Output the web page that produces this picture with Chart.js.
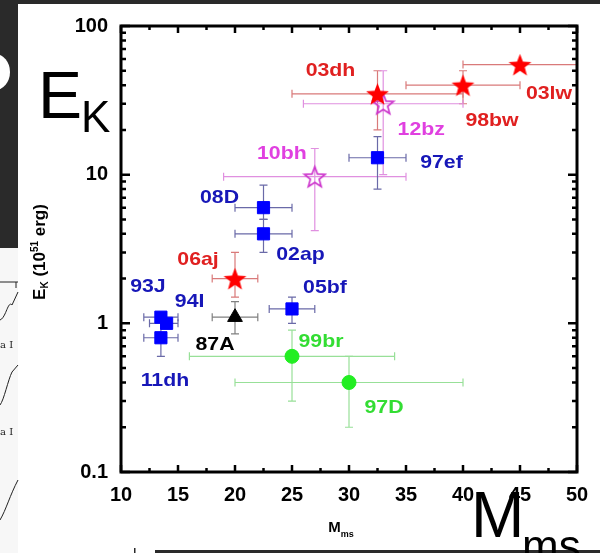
<!DOCTYPE html>
<html>
<head>
<meta charset="utf-8">
<script src="https://cdn.jsdelivr.net/npm/chart.js@4.4.0/dist/chart.umd.min.js"></script>
<style>
  html, body { margin: 0; padding: 0; background: #fff; }
  #canvas { display: block; }
</style>
</head>
<body>
<canvas id="canvas" width="600" height="553"></canvas>
<script>
// hypernovae, filled red stars
let redNames = ['03lw', '98bw', '03dh', '06aj'];
let redMass = [45, 40, 32.5, 20];
let redEk = [55, 40, 35, 2];
let redMassLo = [40, 35, 25, 18];
let redMassHi = [50, 45, 40, 22];
let redEkLo = [55, 30, 20, 1.5];
let redEkHi = [55, 50, 50, 3];

// open magenta stars
let pinkNames = ['12bz', '10bh'];
let pinkMass = [33, 27];
let pinkEk = [30, 9.7];
let pinkMassLo = [26, 19];
let pinkMassHi = [40, 35];
let pinkEkLo = [10, 4.2];
let pinkEkHi = [50, 15];

// blue squares
let blueNames = ['97ef', '08D', '02ap', '05bf', '93J', '94I', '11dh'];
let blueMass = [32.5, 22.5, 22.5, 25, 13.5, 14, 13.5];
let blueEk = [13, 6, 4, 1.25, 1.1, 1.0, 0.8];
let blueMassLo = [30, 20, 20, 23, 12, 12.5, 12];
let blueMassHi = [35, 25, 25, 27, 15, 15, 15];
let blueEkLo = [8, 5, 3, 1.0, 1.1, 1.0, 0.6];
let blueEkHi = [18, 8.5, 5, 1.5, 1.1, 1.0, 1.0];

// SN 1987A
let blackNames = ['87A'];
let blackMass = [20];
let blackEk = [1.1];
let blackMassLo = [18];
let blackMassHi = [22];
let blackEkLo = [0.85];
let blackEkHi = [1.4];

// green circles
let greenNames = ['99br', '97D'];
let greenMass = [25, 30];
let greenEk = [0.6, 0.4];
let greenMassLo = [16, 20];
let greenMassHi = [34, 40];
let greenEkLo = [0.3, 0.2];
let greenEkHi = [0.9, 0.6];

let massTicks = [10, 15, 20, 25, 30, 35, 40, 45, 50];
let ekTicks = [0.1, 1, 10, 100];

// label offsets in px from the marker (style only)
let labelOffset = {
  '03lw': [29, 29], '98bw': [29, 36], '03dh': [-47, -23], '06aj': [-37, -19],
  '12bz': [38, 26], '10bh': [-33, -23],
  '97ef': [64, 5], '08D': [-44, -10], '02ap': [37, 21], '05bf': [33, -21],
  '93J': [-13, -30], '94I': [23, -22], '11dh': [4, 43],
  '87A': [-20, 28], '99br': [29, -15], '97D': [35, 25]
};

function starImage(size, fill, stroke) {
  let c = document.createElement('canvas');
  c.width = size; c.height = size;
  let g = c.getContext('2d');
  let R = size / 2 - 1.5, r = R * 0.42, cx = size / 2, cy = size / 2 + R * 0.1;
  g.beginPath();
  for (let i = 0; i < 10; i++) {
    let a = -Math.PI / 2 + i * Math.PI / 5;
    let rad = i % 2 ? r : R;
    g.lineTo(cx + rad * Math.cos(a), cy + rad * Math.sin(a));
  }
  g.closePath();
  if (fill) { g.fillStyle = fill; g.fill(); }
  if (stroke) { g.strokeStyle = stroke; g.lineWidth = 1.6; g.stroke(); }
  return c;
}

let groups = [
  { names: redNames, mass: redMass, ek: redEk, mLo: redMassLo, mHi: redMassHi, eLo: redEkLo, eHi: redEkHi,
    point: starImage(27, '#ff0000'), radius: 12, fill: '#ff0000', bar: '#d97a7a', text: '#e02020' },
  { names: pinkNames, mass: pinkMass, ek: pinkEk, mLo: pinkMassLo, mHi: pinkMassHi, eLo: pinkEkLo, eHi: pinkEkHi,
    point: starImage(25, null, '#cc33cc'), radius: 12, fill: '#cc33cc', bar: '#e090e0', text: '#e040e0' },
  { names: blackNames, mass: blackMass, ek: blackEk, mLo: blackMassLo, mHi: blackMassHi, eLo: blackEkLo, eHi: blackEkHi,
    point: 'triangle', radius: 8.5, fill: '#000000', bar: '#808080', text: '#000000' },
  { names: blueNames, mass: blueMass, ek: blueEk, mLo: blueMassLo, mHi: blueMassHi, eLo: blueEkLo, eHi: blueEkHi,
    point: 'rect', radius: 8.6, fill: '#0000ff', bar: '#6a6aa8', text: '#1717b8' },
  { names: greenNames, mass: greenMass, ek: greenEk, mLo: greenMassLo, mHi: greenMassHi, eLo: greenEkLo, eHi: greenEkHi,
    point: 'circle', radius: 7, fill: '#22ee22', bar: '#98e098', text: '#33dd33' }
];

const FONT = '"Liberation Sans", Arial, sans-serif';

function richText(g, parts, x, y) {
  // parts: [text, size, baseline shift]; drawn left to right, centred on x
  let total = 0;
  parts.forEach(p => { g.font = 'bold ' + p[1] + 'px ' + FONT; total += g.measureText(p[0]).width; });
  let cx = x - total / 2;
  g.textAlign = 'left';
  g.textBaseline = 'alphabetic';
  parts.forEach(p => {
    g.font = 'bold ' + p[1] + 'px ' + FONT;
    g.fillText(p[0], cx, y + p[2]);
    cx += g.measureText(p[0]).width;
  });
}

const decor = {
  id: 'decor',
  beforeDraw(chart) {
    let g = chart.ctx;
    g.save();
    g.fillStyle = '#ffffff';
    g.fillRect(0, 0, 600, 553);
    // slide pieces around the figure
    g.fillStyle = '#2a2a2a';
    g.fillRect(0, 0, 600, 4);
    g.fillRect(0, 0, 18, 248);
    g.fillRect(155, 550, 445, 3);
    g.fillRect(134, 548, 1.5, 5);
    g.fillStyle = '#ffffff';
    g.beginPath();
    g.ellipse(-5, 72, 15, 18, 0, 0, Math.PI * 2);
    g.fill();
    g.fillStyle = '#f7f7f7';
    g.fillRect(0, 248, 18, 305);
    g.strokeStyle = '#222';
    g.lineWidth = 1;
    g.beginPath();
    g.moveTo(0, 282); g.lineTo(18, 282);
    g.moveTo(16, 282); g.lineTo(16, 288);
    g.moveTo(0, 320); g.bezierCurveTo(6, 318, 8, 300, 12, 305); g.lineTo(18, 292);
    g.moveTo(0, 405); g.bezierCurveTo(4, 400, 8, 380, 12, 372); g.lineTo(18, 365);
    g.moveTo(0, 520); g.bezierCurveTo(6, 510, 10, 495, 18, 480);
    g.stroke();
    g.fillStyle = '#222';
    g.font = '10px "DejaVu Serif", serif';
    g.textAlign = 'left';
    g.textBaseline = 'middle';
    g.fillText('a I', 0, 345);
    g.fillText('a I', 0, 432);
    g.restore();
  },
  beforeDatasetsDraw(chart) {
    let g = chart.ctx, xs = chart.scales.x, ys = chart.scales.y;
    g.save();
    g.lineWidth = 1.2;
    groups.forEach(grp => {
      g.strokeStyle = grp.bar;
      grp.mass.forEach((m, i) => {
        let px = xs.getPixelForValue(m), py = ys.getPixelForValue(grp.ek[i]);
        let x0 = xs.getPixelForValue(grp.mLo[i]), x1 = xs.getPixelForValue(grp.mHi[i]);
        let y0 = ys.getPixelForValue(grp.eLo[i]), y1 = ys.getPixelForValue(grp.eHi[i]);
        g.beginPath();
        if (grp.mLo[i] !== grp.mHi[i]) {
          g.moveTo(x0, py); g.lineTo(x1, py);
          g.moveTo(x0, py - 4); g.lineTo(x0, py + 4);
          g.moveTo(x1, py - 4); g.lineTo(x1, py + 4);
        }
        if (grp.eLo[i] !== grp.eHi[i]) {
          g.moveTo(px, y0); g.lineTo(px, y1);
          g.moveTo(px - 4, y0); g.lineTo(px + 4, y0);
          g.moveTo(px - 4, y1); g.lineTo(px + 4, y1);
        }
        g.stroke();
      });
    });
    g.restore();
  },
  afterDraw(chart) {
    let g = chart.ctx, xs = chart.scales.x, ys = chart.scales.y, a = chart.chartArea;
    g.save();
    // frame with inward ticks on all sides
    g.strokeStyle = '#000';
    g.lineWidth = 3;
    g.strokeRect(a.left, a.top, a.right - a.left, a.bottom - a.top);
    g.lineWidth = 2.5;
    g.beginPath();
    for (let v = 10; v <= 50; v += 2.5) {
      let px = xs.getPixelForValue(v);
      let len = (v % 5 === 0) ? 7 : 4;
      g.moveTo(px, a.bottom); g.lineTo(px, a.bottom - len);
      g.moveTo(px, a.top); g.lineTo(px, a.top + len);
    }
    for (let d = 0.1; d < 100; d *= 10) {
      for (let k = 1; k <= 10; k++) {
        let py = ys.getPixelForValue(d * k);
        let len = (k === 1 || k === 10) ? 9 : 5;
        g.moveTo(a.left, py); g.lineTo(a.left + len, py);
        g.moveTo(a.right, py); g.lineTo(a.right - len, py);
      }
    }
    g.stroke();

    // point labels, slightly widened like the scanned figure
    g.textAlign = 'center';
    g.textBaseline = 'middle';
    g.font = 'bold 19px ' + FONT;
    groups.forEach(grp => {
      g.fillStyle = grp.text;
      grp.names.forEach((n, i) => {
        let px = xs.getPixelForValue(grp.mass[i]), py = ys.getPixelForValue(grp.ek[i]);
        let off = labelOffset[n];
        g.save();
        g.translate(px + off[0], py + off[1]);
        g.scale(1.12, 1);
        g.fillText(n, 0, 0);
        g.restore();
      });
    });

    // axis titles
    g.fillStyle = '#000';
    g.save();
    g.translate(39, 252);
    g.rotate(-Math.PI / 2);
    richText(g, [['E', 17, 0], ['K', 10, 3], [' (10', 17, 0], ['51', 10, -7], [' erg)', 17, 0]], 0, 6);
    g.restore();
    richText(g, [['M', 15, 0], ['ms', 9, 5]], 341, 532);

    // big slide letters
    g.textAlign = 'left';
    g.textBaseline = 'alphabetic';
    g.font = '66px ' + FONT;
    g.fillText('E', 38, 118);
    g.font = '44px ' + FONT;
    g.fillText('K', 81, 132);
    g.font = '64px ' + FONT;
    g.fillText('M', 471, 537);
    g.font = '44px ' + FONT;
    g.fillText('ms', 522, 561);
    g.restore();
  }
};

let ctx = document.getElementById('canvas').getContext('2d');

let myChart = new Chart(ctx, {
  type: 'scatter',
  data: {
    datasets: groups.map(grp => ({
      data: grp.mass.map((m, i) => ({ x: m, y: grp.ek[i] })),
      pointStyle: grp.point,
      pointRadius: grp.radius,
      pointHoverRadius: grp.radius,
      backgroundColor: grp.fill,
      borderColor: grp.fill,
      borderWidth: 1
    }))
  },
  options: {
    responsive: false,
    animation: false,
    events: [],
    layout: { padding: { top: 26, right: 23, left: 0, bottom: 0 } },
    plugins: { legend: { display: false }, tooltip: { enabled: false } },
    scales: {
      x: {
        type: 'linear', min: 10, max: 50,
        afterBuildTicks: s => { s.ticks = massTicks.map(v => ({ value: v })); },
        afterFit: s => { s.height = 81; },
        ticks: { color: '#000', padding: 11, maxRotation: 0, autoSkip: false, font: { family: FONT, size: 20, weight: 'bold' } },
        grid: { display: false, drawTicks: false },
        border: { display: false }
      },
      y: {
        type: 'logarithmic', min: 0.1, max: 100,
        afterBuildTicks: s => { s.ticks = ekTicks.map(v => ({ value: v })); },
        afterFit: s => { s.width = 121; },
        ticks: { color: '#000', padding: 13, autoSkip: false, callback: v => String(v), font: { family: FONT, size: 20, weight: 'bold' } },
        grid: { display: false, drawTicks: false },
        border: { display: false }
      }
    }
  },
  plugins: [decor]
});
</script>
</body>
</html>
